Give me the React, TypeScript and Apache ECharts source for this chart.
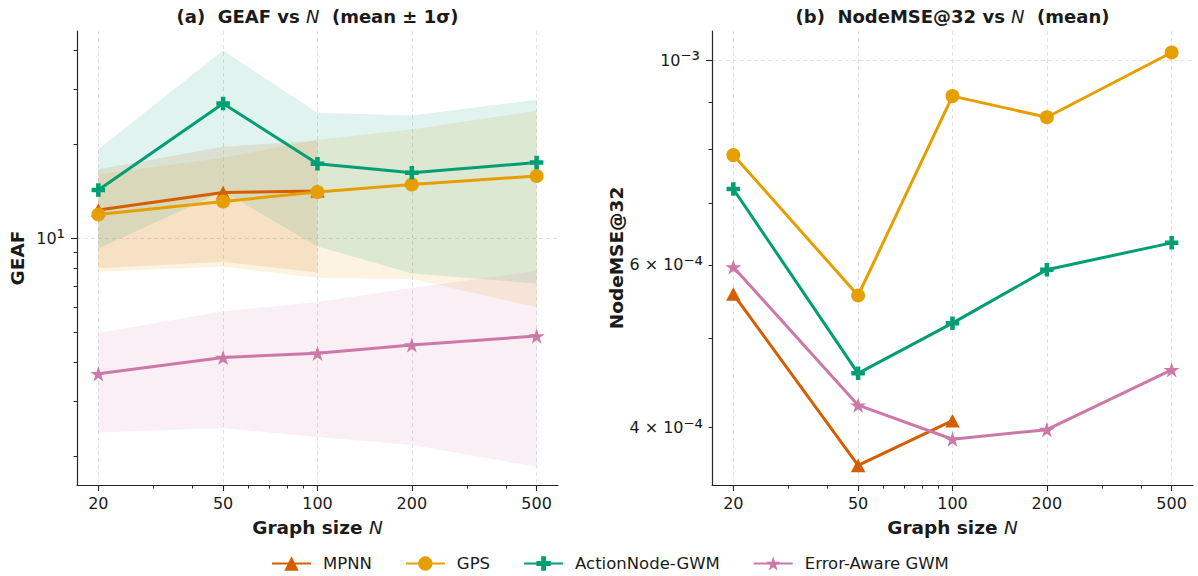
import React, { useEffect, useRef } from 'react';
import * as echarts from 'echarts';

// ---------------- data ----------------
const graphSizes = [20, 50, 100, 200, 500];
const seriesNames = ['MPNN', 'GPS', 'ActionNode-GWM', 'Error-Aware GWM'];

// GEAF mean values (panel a)
const geafMpnn = [12.3, 14.0, 14.15];
const geafGps = [11.9, 13.1, 14.05, 14.85, 15.8];
const geafActionNode = [14.25, 27.0, 17.3, 16.2, 17.45];
const geafErrorAware = [3.67, 4.14, 4.27, 4.54, 4.85];

// GEAF standard deviations (panel a bands)
const geafStdMpnn = [4.3, 5.6, 6.4];
const geafStdGps = [4.1, 5.0, 6.6, 7.45, 9.8];
const geafStdActionNode = [5.0, 12.9, 7.9, 8.5, 10.3];
const geafStdErrorAware = [1.29, 1.68, 1.97, 2.37, 3.0];

// NodeMSE@32 mean values (panel b)
const mseMpnn = [5.58e-4, 3.64e-4, 4.07e-4];
const mseGps = [7.89e-4, 5.56e-4, 9.14e-4, 8.67e-4, 1.019e-3];
const mseActionNode = [7.25e-4, 4.58e-4, 5.19e-4, 5.93e-4, 6.34e-4];
const mseErrorAware = [5.97e-4, 4.23e-4, 3.886e-4, 3.98e-4, 4.62e-4];

// ticks
const xMajorTicks = [20, 50, 100, 200, 500];
const xMinorTicks = [30, 40, 60, 70, 80, 90, 300, 400];
const geafMajorTicks = [10];
const geafMinorTicks = [2, 3, 4, 5, 6, 7, 8, 9, 20, 30, 40];
const mseMajorTicks = [1e-3];
const mseMinorTicks = [4e-4, 5e-4, 6e-4, 7e-4, 8e-4, 9e-4];
const mseMinorLabels = [4e-4, 6e-4];

// axis ranges (log axes)
const xRange = [17.1, 585];
const geafRange = [1.615, 46.1];
const mseRange = [3.467e-4, 1.075e-3];

// ---------------- styling ----------------
const FONT = 'DejaVu Sans';
const TEXT = '#1a1a1a';
const AXIS = '#262626';
const GRID = '#e2e2e2';
const COLORS = ['#D55E00', '#E69F00', '#009E73', '#CC79A7'];

const lg = (v: number) => Math.log10(v);

const SUP: Record<string, string> = {
  '-': '\u207B', '0': '\u2070', '1': '\u00B9', '2': '\u00B2', '3': '\u00B3',
  '4': '\u2074', '5': '\u2075', '6': '\u2076', '7': '\u2077', '8': '\u2078', '9': '\u2079',
};
const sup = (n: number) => String(n).split('').map((c) => SUP[c] || c).join('');

function starPath() {
  const pts: string[] = [];
  for (let k = 0; k < 10; k++) {
    const a = -Math.PI / 2 + (k * Math.PI) / 5;
    const r = k % 2 === 0 ? 1 : 0.382;
    pts.push(`${(r * Math.cos(a)).toFixed(4)},${(r * Math.sin(a)).toFixed(4)}`);
  }
  return 'path://M' + pts.join('L') + 'Z';
}
const PLUS = 'path://M2,0L4,0L4,2L6,2L6,4L4,4L4,6L2,6L2,4L0,4L0,2L2,2Z';

const methods = [
  { name: seriesNames[0], color: COLORS[0], symbol: 'triangle', size: [14.5, 13.5], geaf: geafMpnn, std: geafStdMpnn, mse: mseMpnn },
  { name: seriesNames[1], color: COLORS[1], symbol: 'circle', size: 14, geaf: geafGps, std: geafStdGps, mse: mseGps },
  { name: seriesNames[2], color: COLORS[2], symbol: PLUS, size: 13.5, geaf: geafActionNode, std: geafStdActionNode, mse: mseActionNode },
  { name: seriesNames[3], color: COLORS[3], symbol: starPath(), size: 16, geaf: geafErrorAware, std: geafStdErrorAware, mse: mseErrorAware },
];

const labelFont = { fontFamily: FONT, fontSize: 16, color: TEXT };
const supRich = {
  n: { fontFamily: FONT, fontSize: 16, color: TEXT },
  s: { fontFamily: FONT, fontSize: 21, color: TEXT },
};
const nameRich = {
  b: { fontFamily: FONT, fontSize: 18.5, fontWeight: 'bold', color: TEXT },
  i: { fontFamily: FONT, fontSize: 18.5, fontStyle: 'italic', color: TEXT },
};
const titleRich = {
  b: { fontFamily: FONT, fontSize: 18, fontWeight: 'bold', fill: TEXT, color: TEXT },
  i: { fontFamily: FONT, fontSize: 18, fontStyle: 'italic', fill: TEXT, color: TEXT },
};

const powerLabel = (e: number) => `{n|10}{s|${sup(e)}}`;

function xAxes(gridIndex: number) {
  const common = {
    type: 'value', gridIndex, position: 'bottom',
    min: lg(xRange[0]), max: lg(xRange[1]),
  };
  return [
    {
      ...common,
      axisLine: { show: true, onZero: false, lineStyle: { color: AXIS, width: 1.2 } },
      axisTick: { show: true, length: 6, customValues: xMajorTicks.map(lg), lineStyle: { color: AXIS, width: 1.1 } },
      axisLabel: {
        show: true, customValues: xMajorTicks.map(lg), margin: 10, ...labelFont,
        formatter: (v: number) => String(Math.round(Math.pow(10, v))),
      },
      splitLine: { show: true, lineStyle: { color: GRID, type: [4, 3], width: 1 } },
      name: '{b|Graph size }{i|N}', nameLocation: 'middle', nameGap: 33,
      nameTextStyle: { rich: nameRich },
    },
    {
      ...common,
      axisLine: { show: false, onZero: false },
      axisTick: { show: true, length: 3.5, customValues: xMinorTicks.map(lg), lineStyle: { color: AXIS, width: 1 } },
      axisLabel: { show: false },
      splitLine: { show: false },
    },
  ];
}

const yAxes = [
  // panel a major
  {
    type: 'value', gridIndex: 0, position: 'left', min: lg(geafRange[0]), max: lg(geafRange[1]),
    axisLine: { show: true, onZero: false, lineStyle: { color: AXIS, width: 1.2 } },
    axisTick: { show: true, length: 6, customValues: geafMajorTicks.map(lg), lineStyle: { color: AXIS, width: 1.1 } },
    axisLabel: {
      show: true, customValues: geafMajorTicks.map(lg), margin: 12, ...labelFont, rich: supRich,
      formatter: (v: number) => powerLabel(Math.round(v)),
    },
    splitLine: { show: true, lineStyle: { color: GRID, type: [4, 3], width: 1 } },
    name: '{b|GEAF}', nameLocation: 'middle', nameGap: 50,
    nameTextStyle: { rich: nameRich },
  },
  // panel a minor
  {
    type: 'value', gridIndex: 0, position: 'left', min: lg(geafRange[0]), max: lg(geafRange[1]),
    axisLine: { show: false, onZero: false },
    axisTick: { show: true, length: 3.5, customValues: geafMinorTicks.map(lg), lineStyle: { color: AXIS, width: 1 } },
    axisLabel: { show: false },
    splitLine: { show: false },
  },
  // panel b major
  {
    type: 'value', gridIndex: 1, position: 'left', min: lg(mseRange[0]), max: lg(mseRange[1]),
    axisLine: { show: true, onZero: false, lineStyle: { color: AXIS, width: 1.2 } },
    axisTick: { show: true, length: 6, customValues: mseMajorTicks.map(lg), lineStyle: { color: AXIS, width: 1.1 } },
    axisLabel: {
      show: true, customValues: mseMajorTicks.map(lg), margin: 12, ...labelFont, rich: supRich,
      formatter: (v: number) => powerLabel(Math.round(v)),
    },
    splitLine: { show: true, lineStyle: { color: GRID, type: [4, 3], width: 1 } },
    name: '{b|NodeMSE@32}', nameLocation: 'middle', nameGap: 86,
    nameTextStyle: { rich: nameRich },
  },
  // panel b minor
  {
    type: 'value', gridIndex: 1, position: 'left', min: lg(mseRange[0]), max: lg(mseRange[1]),
    axisLine: { show: false, onZero: false },
    axisTick: { show: true, length: 3.5, customValues: mseMinorTicks.map(lg), lineStyle: { color: AXIS, width: 1 } },
    axisLabel: {
      show: true, customValues: mseMinorLabels.map(lg), margin: 9, ...labelFont, rich: supRich,
      formatter: (v: number) => {
        const e = Math.floor(v + 1e-9);
        const m = Math.round(Math.pow(10, v - e));
        return `{n|${m} \u00D7 10}{s|${sup(e)}}`;
      },
    },
    splitLine: { show: false },
  },
];

function bandSeries(mean: number[], std: number[], color: string) {
  const upper = mean.map((m, i) => [lg(graphSizes[i]), lg(m + std[i])]);
  const lower = mean.map((m, i) => [lg(graphSizes[i]), lg(m - std[i])]);
  return {
    type: 'custom',
    xAxisIndex: 0,
    yAxisIndex: 0,
    silent: true,
    z: 1,
    data: [[lg(graphSizes[0]), lg(10)]],
    renderItem: (_params: any, api: any) => {
      const pts = upper.concat(lower.slice().reverse()).map((p) => api.coord(p));
      return { type: 'polygon', shape: { points: pts }, style: { fill: color, opacity: 0.12 } };
    },
  };
}

function lineSeries(m: any, values: number[], xi: number, yi: number) {
  return {
    type: 'line',
    name: m.name,
    xAxisIndex: xi,
    yAxisIndex: yi,
    data: values.map((v, i) => [lg(graphSizes[i]), lg(v)]),
    symbol: m.symbol,
    symbolSize: m.size,
    symbolKeepAspect: true,
    showAllSymbol: true,
    lineStyle: { color: m.color, width: 3 },
    itemStyle: { color: m.color, borderWidth: 0 },
    emphasis: { disabled: true },
    z: 3,
  };
}

const series: any[] = [];
methods.forEach((m) => series.push(bandSeries(m.geaf, m.std, m.color)));
methods.forEach((m) => series.push(lineSeries(m, m.geaf, 0, 0)));
methods.forEach((m) => series.push(lineSeries(m, m.mse, 2, 2)));

const option: any = {
  animation: false,
  backgroundColor: '#ffffff',
  textStyle: { fontFamily: FONT },
  grid: [
    { left: 77, top: 31, width: 481, height: 454, outerBoundsMode: 'none' },
    { left: 712, top: 31, width: 481, height: 454, outerBoundsMode: 'none' },
  ],
  xAxis: [...xAxes(0), ...xAxes(1)],
  yAxis: yAxes,
  legend: {
    data: seriesNames,
    left: 266,
    top: 550,
    itemWidth: 39,
    itemHeight: 18,
    itemGap: 33,
    textStyle: { fontFamily: FONT, fontSize: 16.5, color: TEXT, padding: [0, 0, 0, 7] },
  },
  graphic: [
    {
      type: 'text', x: 317.5, y: 16, silent: true,
      style: { text: '{b|(a)  GEAF vs }{i|N}{b|  (mean \u00B1 1\u03C3)}', align: 'center', verticalAlign: 'middle', rich: titleRich },
    },
    {
      type: 'text', x: 952.5, y: 16, silent: true,
      style: { text: '{b|(b)  NodeMSE@32 vs }{i|N}{b|  (mean)}', align: 'center', verticalAlign: 'middle', rich: titleRich },
    },
  ],
  series,
};

export default function App() {
  const ref = useRef<HTMLDivElement>(null);
  useEffect(() => {
    document.body.style.margin = '0';
    const chart = echarts.init(ref.current as HTMLDivElement, undefined, { renderer: 'svg' });
    chart.setOption(option);
    return () => chart.dispose();
  }, []);
  return <div ref={ref} style={{ width: 1198, height: 576 }} />;
}
